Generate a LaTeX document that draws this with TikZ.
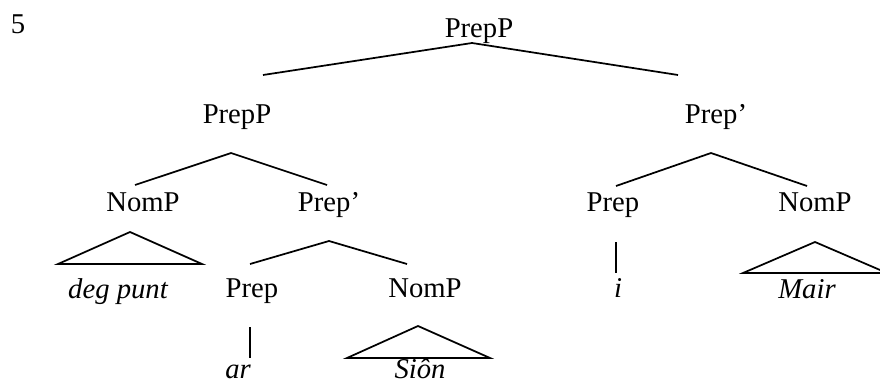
\documentclass[tikz,border=0pt]{standalone}
\usepackage{fontspec}
\setmainfont{Liberation Serif}

\begin{document}
\begin{tikzpicture}[x=0.75pt,y=-0.75pt,line width=1.3pt,
  font=\fontsize{21.5pt}{26pt}\selectfont,
  cat/.style={anchor=base,inner sep=0pt},
  word/.style={cat,font=\fontsize{21.5pt}{26pt}\selectfont\itshape},
  roof/.style={line join=miter}]
\useasboundingbox (0,0) rectangle (880,385);

% example number
\node[cat] (num) at (18,34) {5};

% category labels
\node[cat] (pp)    at (479,38)  {PrepP};
\node[cat] (ppL)   at (237,123) {PrepP};
\node[cat] (pbarR) at (716,123) {Prep'};
\node[cat] (npA)   at (143,211) {NomP};
\node[cat] (pbarL) at (329,211) {Prep'};
\node[cat] (prepR) at (613,211) {Prep};
\node[cat] (npD)   at (815,211) {NomP};
\node[cat] (prepL) at (252,297) {Prep};
\node[cat] (npS)   at (425,297) {NomP};

% words
\node[word] (degpunt) at (118,298) {deg punt};
\node[word] (i)       at (618,297) {i};
\node[word] (mair)    at (807,298) {Mair};
\node[word] (ar)      at (238,378) {ar};
\node[word] (sion)    at (420,378) {Siôn};

% branch points
\coordinate (pp-b)    at (472,43);
\coordinate (ppL-t)   at (263,75);
\coordinate (pbarR-t) at (678,75);
\coordinate (ppL-b)   at (231,153);
\coordinate (npA-t)   at (135,185);
\coordinate (pbarL-t) at (327,185);
\coordinate (pbarR-b) at (711,153);
\coordinate (prepR-t) at (616,186);
\coordinate (npD-t)   at (807,186);
\coordinate (pbarL-b) at (329,241);
\coordinate (prepL-t) at (250,264);
\coordinate (npS-t)   at (407,264);
\coordinate (prepL-b) at (250,327);
\coordinate (ar-t)    at (250,358);
\coordinate (prepR-b) at (616,242);
\coordinate (i-t)     at (616,273);

\draw (ppL-t) -- (pp-b) -- (pbarR-t);
\draw (npA-t) -- (ppL-b) -- (pbarL-t);
\draw (prepR-t) -- (pbarR-b) -- (npD-t);
\draw (prepL-t) -- (pbarL-b) -- (npS-t);
\draw (prepL-b) -- (ar-t);
\draw (prepR-b) -- (i-t);

% roofs over unanalysed phrases
\draw[roof] (130,232) -- (58,264) -- (202,264) -- cycle;
\draw[roof] (418,326) -- (347,358) -- (490,358) -- cycle;
\draw[roof] (815,242) -- (743,273) -- (887,273) -- cycle;

\end{tikzpicture}
\end{document}
